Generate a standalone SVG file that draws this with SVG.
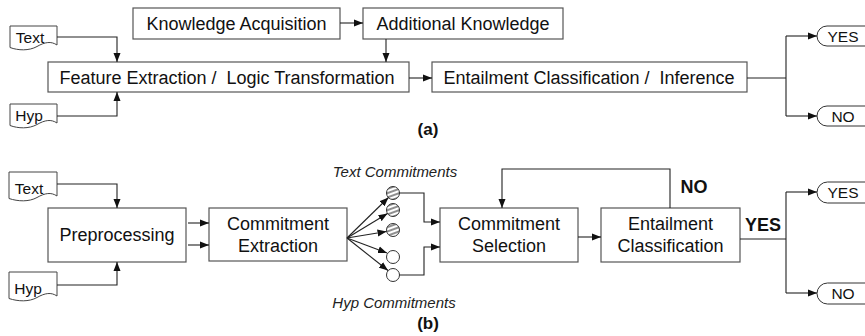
<svg xmlns="http://www.w3.org/2000/svg" width="865" height="336" viewBox="0 0 865 336">
<style>
.box{fill:#fff;stroke:#555;stroke-width:1.2}
.doc{fill:#fff;stroke:#444;stroke-width:1}
.term{fill:#fff;stroke:#333;stroke-width:1}
.t{font-family:"Liberation Sans",Arial,sans-serif;font-size:18px;fill:#111;text-anchor:middle}
.s{font-family:"Liberation Sans",Arial,sans-serif;font-size:15.5px;fill:#111;text-anchor:middle}
.i{font-family:"Liberation Sans",Arial,sans-serif;font-size:15px;font-style:italic;fill:#222;text-anchor:middle}
.b{font-family:"Liberation Sans",Arial,sans-serif;font-size:18px;font-weight:bold;fill:#111;text-anchor:middle}
.lab{font-family:"Liberation Sans",Arial,sans-serif;font-size:17px;font-weight:bold;fill:#111;text-anchor:middle}
.c{fill:none;stroke:#222;stroke-width:1.1}
.ca{fill:none;stroke:#222;stroke-width:1.1;marker-end:url(#ah)}
</style>
<defs>
<marker id="ah" markerWidth="10" markerHeight="8" refX="9" refY="4" orient="auto" markerUnits="userSpaceOnUse">
<path d="M0,0.5 L9,4 L0,7.5 Z" fill="#111"/>
</marker>
<pattern id="hatch" patternUnits="userSpaceOnUse" width="4" height="4" patternTransform="rotate(-20)">
<rect width="4" height="4" fill="#fff"/>
<line x1="0" y1="2" x2="4" y2="2" stroke="#333" stroke-width="1.1"/>
</pattern>
</defs>

<!-- Part (a) -->
<g id="a-text">
<path class="doc" d="M10,26 H57 V45 C51,41 45,42 37,46.5 C29,51 18,50.5 10,47.5 Z"/>
<text class="s" x="30" y="43">Text</text>
</g>
<g id="a-hyp">
<path class="doc" d="M10,104 H57 V123 C51,119 45,120 37,124.5 C29,129 18,128.5 10,125.5 Z"/>
<text class="s" x="29" y="121">Hyp</text>
</g>
<g id="a-ka">
<rect class="box" x="133" y="8" width="207" height="31"/>
<text class="t" x="236.5" y="30">Knowledge Acquisition</text>
</g>
<g id="a-ak">
<rect class="box" x="363" y="8" width="200" height="31"/>
<text class="t" x="463" y="30">Additional Knowledge</text>
</g>
<g id="a-fe">
<rect class="box" x="48" y="62" width="361" height="30"/>
<text class="t" x="227" y="84" xml:space="preserve">Feature Extraction /  Logic Transformation</text>
</g>
<g id="a-ec">
<rect class="box" x="432" y="62" width="315" height="30"/>
<text class="t" x="589" y="84" xml:space="preserve">Entailment Classification /  Inference</text>
</g>
<g id="a-yes">
<rect class="term" x="817" y="26" width="70" height="20" rx="10"/>
<text class="s" x="843" y="41.5">YES</text>
</g>
<g id="a-no">
<rect class="term" x="817" y="106" width="70" height="20" rx="10"/>
<text class="s" x="843" y="121.5">NO</text>
</g>
<text class="lab" x="428" y="135">(a)</text>

<!-- Part (b) -->
<g id="b-text">
<path class="doc" d="M9,172 H57 V196 C51,192 45,193 37,197.5 C29,202 18,201.5 9,198.5 Z"/>
<text class="s" x="29" y="194">Text</text>
</g>
<g id="b-hyp">
<path class="doc" d="M9,272 H57 V296 C51,292 45,293 37,297.5 C29,302 18,301.5 9,298.5 Z"/>
<text class="s" x="28" y="294">Hyp</text>
</g>
<g id="b-pre">
<rect class="box" x="48" y="208" width="138" height="54"/>
<text class="t" x="117" y="240.5">Preprocessing</text>
</g>
<g id="b-ce">
<rect class="box" x="209" y="208" width="138" height="53"/>
<text class="t" x="278" y="230">Commitment</text>
<text class="t" x="278" y="252">Extraction</text>
</g>
<g id="b-circles">
<circle cx="393" cy="193" r="6.5" fill="url(#hatch)" stroke="#333" stroke-width="1"/>
<circle cx="393" cy="210" r="6.5" fill="url(#hatch)" stroke="#333" stroke-width="1"/>
<circle cx="393" cy="230" r="6.5" fill="url(#hatch)" stroke="#333" stroke-width="1"/>
<circle cx="393" cy="257" r="6.5" fill="#fff" stroke="#333" stroke-width="1"/>
<circle cx="393" cy="275" r="6.5" fill="#fff" stroke="#333" stroke-width="1"/>
</g>
<text class="i" x="395" y="177">Text Commitments</text>
<text class="i" x="394" y="308">Hyp Commitments</text>
<g id="b-cs">
<rect class="box" x="440" y="208" width="138" height="54"/>
<text class="t" x="509" y="230">Commitment</text>
<text class="t" x="509" y="252">Selection</text>
</g>
<g id="b-ec">
<rect class="box" x="601" y="208" width="139" height="54"/>
<text class="t" x="670.5" y="230">Entailment</text>
<text class="t" x="670.5" y="252">Classification</text>
</g>
<text class="b" x="694" y="193">NO</text>
<text class="b" x="763" y="231">YES</text>
<g id="b-yes">
<rect class="term" x="817" y="182" width="70" height="21" rx="10.5"/>
<text class="s" x="843" y="198">YES</text>
</g>
<g id="b-no">
<rect class="term" x="817" y="283" width="70" height="21" rx="10.5"/>
<text class="s" x="843" y="299">NO</text>
</g>
<text class="lab" x="428" y="329">(b)</text>

<g id="connectors">
<path class="ca" d="M57,37 H117 V62"/>
<path class="ca" d="M57,116 H117 V92"/>
<path class="ca" d="M340,23 H363"/>
<path class="ca" d="M386,39 V62"/>
<path class="ca" d="M409,78 H432"/>
<path class="c" d="M747,78 H786 M786,36 V116"/>
<path class="ca" d="M786,36 H817"/>
<path class="ca" d="M786,116 H817"/>

<path class="ca" d="M57,184 H117 V208"/>
<path class="ca" d="M57,285 H117 V262"/>
<path class="ca" d="M188,223 H209"/>
<path class="ca" d="M188,245 H209"/>
<path class="ca" d="M347,238 L388.5,197.5"/>
<path class="ca" d="M347,238 L387.5,213.5"/>
<path class="ca" d="M347,238 L386.5,231.5"/>
<path class="ca" d="M347,238 L387,253"/>
<path class="ca" d="M347,238 L388,270.5"/>
<path class="ca" d="M399.5,193 H424 V222 H440"/>
<path class="ca" d="M399.5,275 H424 V247 H440"/>
<path class="ca" d="M578,237 H601"/>
<path class="ca" d="M670,208 V169 H502 V208"/>
<path class="c" d="M740,239 H786 M786,192 V293"/>
<path class="ca" d="M786,192 H817"/>
<path class="ca" d="M786,293 H817"/>
</g>
</svg>
